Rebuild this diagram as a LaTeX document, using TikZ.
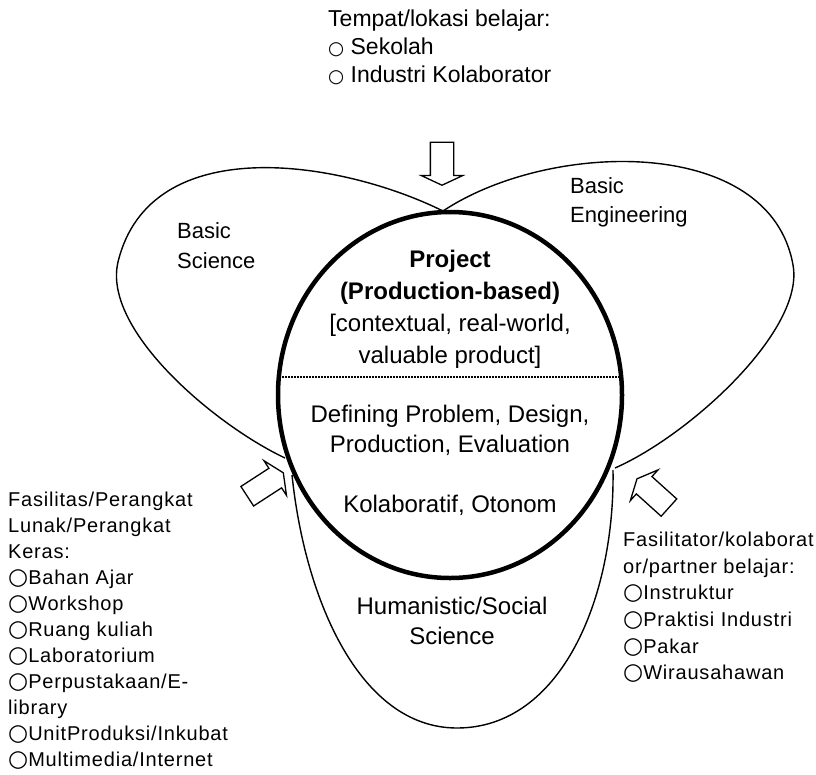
\documentclass[tikz,border=0pt]{standalone}
\usepackage{fontspec}
\setmainfont{Liberation Sans}
\newfontfamily\listfont{Liberation Sans}[LetterSpace=4]
\newfontfamily\bulfont{DejaVu Sans}[Scale=1.15]
\newcommand{\bul}{{\bulfont ○}}
\newcommand{\smallbul}{{\bulfont\fontsize{16}{16}\selectfont ○}}
\usetikzlibrary{shapes,positioning}
\tikzset{every node/.append style={inner sep=0pt}}
\tikzset{
  txt/.style={anchor=north west, align=left},
  mid/.style={anchor=north, align=center},
  petal/.style={line width=1.4pt, line join=round},
  rim/.style={draw, ellipse, line width=4.5pt, minimum width=344pt, minimum height=366pt},
  divider/.style={line width=2.2pt, dash pattern=on 2pt off 1pt},
  blockarrow/.style={draw, single arrow, line width=1.3pt, minimum height=43pt,
    inner sep=11pt, single arrow head extend=9pt, single arrow tip angle=130},
}

\begin{document}
\begin{tikzpicture}[x=1pt,y=-1pt]
        \useasboundingbox (0,0) rectangle (816,774);

        \coordinate (top) at (443,211);
        \coordinate (sciend) at (285,458);
        \coordinate (engend) at (615,468);
        \coordinate (humleft) at (292,475);
        \coordinate (humright) at (613,470);

        \draw[petal] (top) .. controls (340,160) and (150,130) .. (118,262)
                           .. controls (102,330) and (215,425) .. (sciend);
        \draw[petal] (top) .. controls (550,140) and (770,135) .. (793,265)
                           .. controls (805,330) and (690,435) .. (engend);
        \draw[petal] (humleft) .. controls (305,600) and (360,728) .. (457,728)
                               .. controls (560,728) and (615,600) .. (humright);

        \node[rim] (project) at (450,395) {};
        \draw[divider] (279,377) -- (621,377);

        \node[blockarrow, rotate=-90] (arrtop) at (442,161) {};
        \node[blockarrow, rotate=33] (arrleft) at (263,486) {};
        \node[blockarrow, rotate=138] (arrright) at (655,495) {};

        \node[txt, font=\fontsize{23}{28}\selectfont] (tempat) at (328,10) {Tempat/lokasi belajar:\\\smallbul\ Sekolah\\\smallbul\ Industri Kolaborator};
        \node[txt, font=\fontsize{22}{30}\selectfont] (science) at (177,222) {Basic\\Science};
        \node[txt, font=\fontsize{22}{29}\selectfont] (engineering) at (570,177) {Basic\\Engineering};

        \node[mid, font=\fontsize{24}{32}\selectfont] (title) at (450,250) {\textbf{Project}\\\textbf{(Production-based)}\\{[}contextual, real-world,\\valuable product{]}};
        \node[mid, font=\fontsize{24}{30}\selectfont] (steps) at (450,405) {Defining Problem, Design,\\Production, Evaluation};
        \node[anchor=base, font=\fontsize{24}{30}\selectfont] (mode) at (450,512) {Kolaboratif, Otonom};
        \node[mid, font=\fontsize{24}{30}\selectfont] (social) at (452,597) {Humanistic/Social\\Science};

        \node[txt, font=\listfont\fontsize{20}{26}\selectfont] (fasilitas) at (8,492) {Fasilitas/Perangkat\\Lunak/Perangkat\\Keras:\\\bul Bahan Ajar\\\bul Workshop\\\bul Ruang kuliah\\\bul Laboratorium\\\bul Perpustakaan/E-\\library\\\bul UnitProduksi/Inkubat\\\bul Multimedia/Internet};
        \node[txt, font=\listfont\fontsize{20}{26.6}\selectfont] (fasilitator) at (623,532) {Fasilitator/kolaborat\\or/partner belajar:\\\bul Instruktur\\\bul Praktisi Industri\\\bul Pakar\\\bul Wirausahawan};
      \end{tikzpicture}
\end{document}
